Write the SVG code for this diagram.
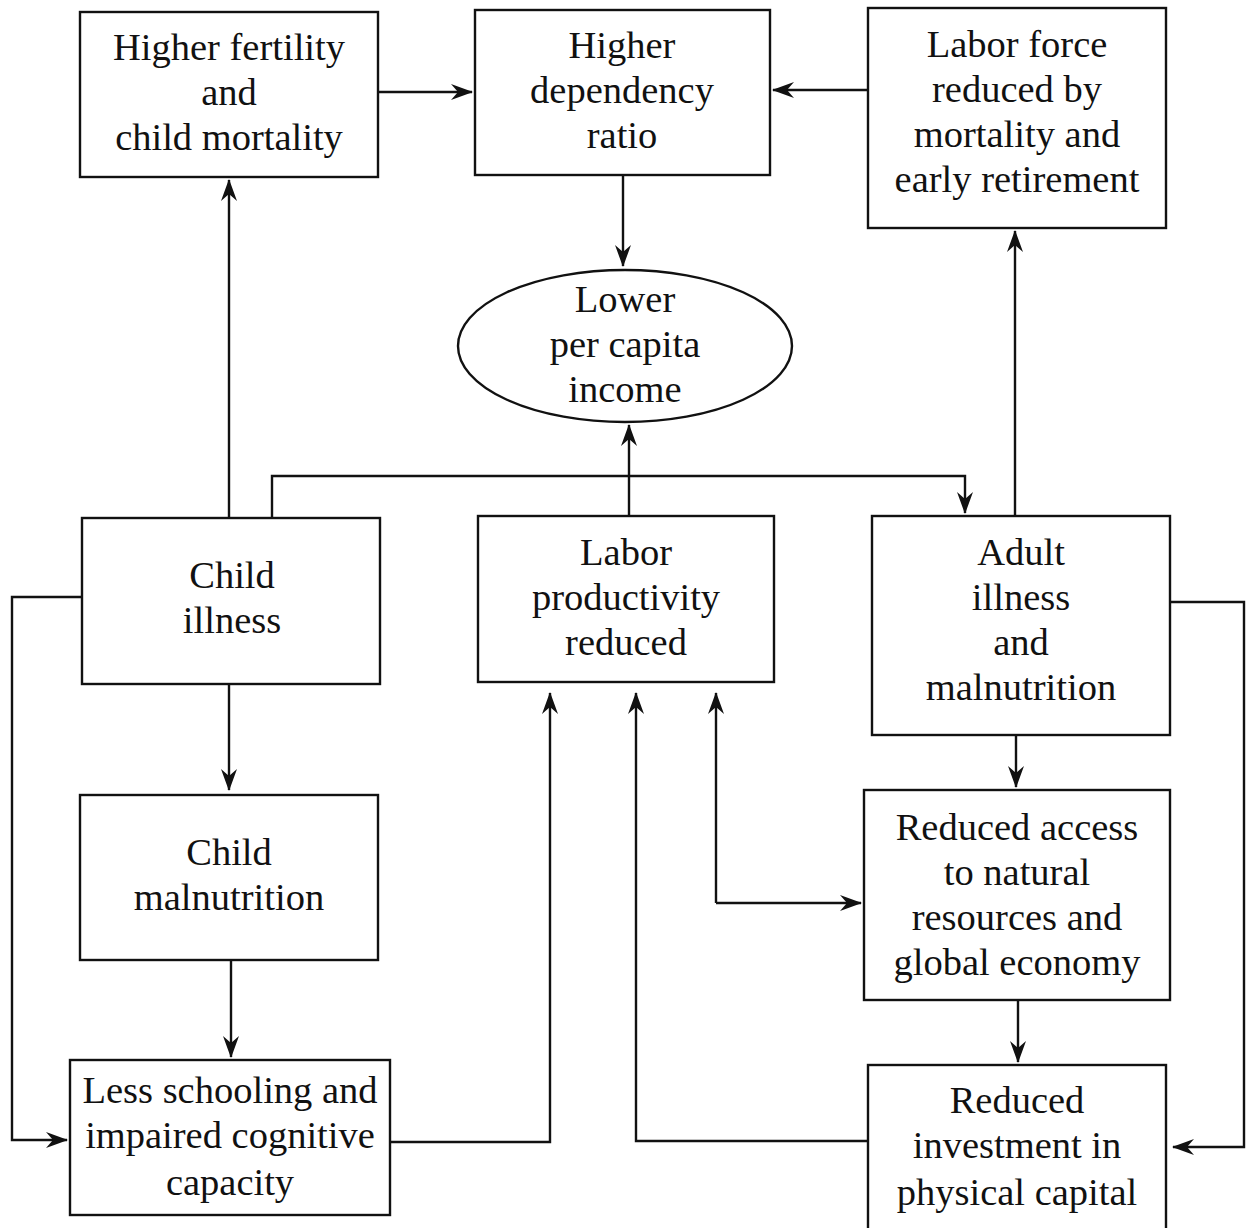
<svg xmlns="http://www.w3.org/2000/svg" width="1246" height="1228" viewBox="0 0 1246 1228">
<defs>
<style>
.box{fill:#fff;stroke:#111;stroke-width:2.4}
.t{font-family:"Liberation Serif","Times New Roman",serif;font-size:38.5px;fill:#111;text-anchor:middle}
.c{fill:none;stroke:#111;stroke-width:2.4}
</style>
<marker id="ah" viewBox="0 0 22 16" refX="21" refY="8" markerWidth="22" markerHeight="16" markerUnits="userSpaceOnUse" orient="auto">
<path d="M0,0 L22,8 L0,16 L7,8 z" fill="#111"/>
</marker>
</defs>
<rect width="1246" height="1228" fill="#fff"/>
<g id="connectors">
<path class="c" d="M378,92 H472" marker-end="url(#ah)"/>
<path class="c" d="M868,90 H773" marker-end="url(#ah)"/>
<path class="c" d="M623,175 V266" marker-end="url(#ah)"/>
<path class="c" d="M229,518 V180" marker-end="url(#ah)"/>
<path class="c" d="M272,518 V476 H965 V513" marker-end="url(#ah)"/>
<path class="c" d="M629,516 V425" marker-end="url(#ah)"/>
<path class="c" d="M1015,516 V231" marker-end="url(#ah)"/>
<path class="c" d="M82,597 H12 V1140 H67" marker-end="url(#ah)"/>
<path class="c" d="M229,684 V790" marker-end="url(#ah)"/>
<path class="c" d="M231,960 V1057" marker-end="url(#ah)"/>
<path class="c" d="M390,1142 H550 V693" marker-end="url(#ah)"/>
<path class="c" d="M868,1141 H636 V693" marker-end="url(#ah)"/>
<path class="c" d="M716,903 V693" marker-end="url(#ah)"/>
<path class="c" d="M716,903 H861" marker-end="url(#ah)"/>
<path class="c" d="M1016,735 V787" marker-end="url(#ah)"/>
<path class="c" d="M1018,1000 V1062" marker-end="url(#ah)"/>
<path class="c" d="M1170,602 H1244 V1147 H1173" marker-end="url(#ah)"/>
</g>
<g id="n1"><rect class="box" x="80" y="12" width="298" height="165"/>
<text class="t"><tspan x="229" y="60">Higher fertility</tspan><tspan x="229" y="105">and</tspan><tspan x="229" y="150">child mortality</tspan></text></g>
<g id="n2"><rect class="box" x="475" y="10" width="295" height="165"/>
<text class="t"><tspan x="622" y="58">Higher</tspan><tspan x="622" y="103">dependency</tspan><tspan x="622" y="148">ratio</tspan></text></g>
<g id="n3"><rect class="box" x="868" y="8" width="298" height="220"/>
<text class="t"><tspan x="1017" y="57">Labor force</tspan><tspan x="1017" y="102">reduced by</tspan><tspan x="1017" y="147">mortality and</tspan><tspan x="1017" y="192">early retirement</tspan></text></g>
<g id="n4"><ellipse class="box" cx="625" cy="346" rx="167" ry="76"/>
<text class="t"><tspan x="625" y="312">Lower</tspan><tspan x="625" y="357">per capita</tspan><tspan x="625" y="402">income</tspan></text></g>
<g id="n5"><rect class="box" x="82" y="518" width="298" height="166"/>
<text class="t"><tspan x="232" y="588">Child</tspan><tspan x="232" y="633">illness</tspan></text></g>
<g id="n6"><rect class="box" x="478" y="516" width="296" height="166"/>
<text class="t"><tspan x="626" y="565">Labor</tspan><tspan x="626" y="610">productivity</tspan><tspan x="626" y="655">reduced</tspan></text></g>
<g id="n7"><rect class="box" x="872" y="516" width="298" height="219"/>
<text class="t"><tspan x="1021" y="565">Adult</tspan><tspan x="1021" y="610">illness</tspan><tspan x="1021" y="655">and</tspan><tspan x="1021" y="700">malnutrition</tspan></text></g>
<g id="n8"><rect class="box" x="80" y="795" width="298" height="165"/>
<text class="t"><tspan x="229" y="865">Child</tspan><tspan x="229" y="910">malnutrition</tspan></text></g>
<g id="n9"><rect class="box" x="864" y="790" width="306" height="210"/>
<text class="t"><tspan x="1017" y="840">Reduced access</tspan><tspan x="1017" y="885">to natural</tspan><tspan x="1017" y="930">resources and</tspan><tspan x="1017" y="975">global economy</tspan></text></g>
<g id="n10"><rect class="box" x="70" y="1060" width="320" height="155"/>
<text class="t"><tspan x="230" y="1103">Less schooling and</tspan><tspan x="230" y="1148">impaired cognitive</tspan><tspan x="230" y="1195">capacity</tspan></text></g>
<g id="n11"><rect class="box" x="868" y="1065" width="298" height="180"/>
<text class="t"><tspan x="1017" y="1113">Reduced</tspan><tspan x="1017" y="1158">investment in</tspan><tspan x="1017" y="1205">physical capital</tspan></text></g>
</svg>
